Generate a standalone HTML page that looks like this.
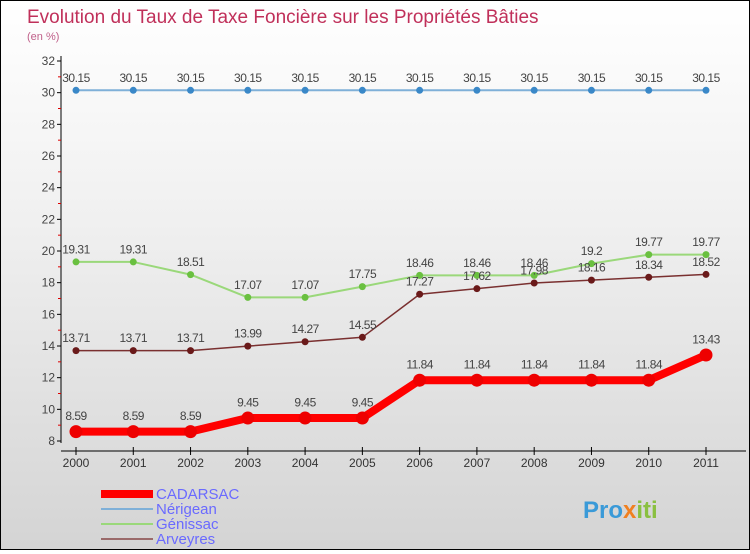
<!DOCTYPE html>
<html><head><meta charset="utf-8"><style>
body{margin:0}
#c{width:748px;height:548px;border:1px solid #000;background:linear-gradient(#fff,#f0f0f0 40%,#d4d4d4);position:relative;font-family:"Liberation Sans",sans-serif}
text{font-family:"Liberation Sans",sans-serif}
</style></head><body>
<div id="c">
<svg id="s" width="748" height="548">
<text x="26" y="22" font-size="19" fill="#c0305a">Evolution du Taux de Taxe Foncière sur les Propriétés Bâties</text>
<text x="26" y="39" font-size="11" fill="#c0608a">(en %)</text>
<g id="g"></g>
<g>
<rect x="100" y="489" width="52" height="8" fill="#f00"/>
<text x="155" y="498" font-size="15" fill="#6a6aff">CADARSAC</text>
<rect x="100" y="507" width="52" height="2" fill="#7fb0d8"/>
<text x="155" y="513" font-size="15" fill="#6a6aff">Nérigean</text>
<rect x="100" y="522" width="52" height="2" fill="#9ad87a"/>
<text x="155" y="528" font-size="15" fill="#6a6aff">Génissac</text>
<rect x="100" y="537" width="52" height="2" fill="#9a6a6a"/>
<text x="155" y="543" font-size="15" fill="#6a6aff">Arveyres</text>
</g>
<text x="582" y="517" font-size="24" font-weight="bold" fill="#3a9ad8">Pro<tspan fill="#f08020">x</tspan><tspan fill="#8ac040">iti</tspan></text>
</svg></div>
<script>
const years=[2000,2001,2002,2003,2004,2005,2006,2007,2008,2009,2010,2011];
const yTicks=[8,10,12,14,16,18,20,22,24,26,28,30,32];
const cadarsac=[8.59,8.59,8.59,9.45,9.45,9.45,11.84,11.84,11.84,11.84,11.84,13.43];
const nerigean=[30.15,30.15,30.15,30.15,30.15,30.15,30.15,30.15,30.15,30.15,30.15,30.15];
const genissac=[19.31,19.31,18.51,17.07,17.07,17.75,18.46,18.46,18.46,19.2,19.77,19.77];
const arveyres=[13.71,13.71,13.71,13.99,14.27,14.55,17.27,17.62,17.98,18.16,18.34,18.52];
const NS="http://www.w3.org/2000/svg",g=document.getElementById('g');
const X=i=>75+i*(630/11), Y=v=>440-(v-8)*(380/24);
function mk(t,a){const e=document.createElementNS(NS,t);for(const k in a)e.setAttribute(k,a[k]);g.appendChild(e);return e;}
let e=mk('line',{x1:60,y1:55,x2:60,y2:442,stroke:'#000'});


e=mk('line',{x1:60,y1:450,x2:745,y2:450,stroke:'#000'});


yTicks.forEach((t,i)=>{
 let l=mk('line',{x1:56,x2:60,y1:Y(t),y2:Y(t),stroke:'#000'});
 
 
 if(i<yTicks.length-1){let m=mk('line',{x1:57,x2:60,y1:Y(t+1),y2:Y(t+1),stroke:'#d00'});
 
 }
 let tx=mk('text',{x:54,y:Y(t)+4,'font-size':12,fill:'#444','text-anchor':'end'});tx.textContent=t;
 
 
});
years.forEach((y,i)=>{
 let l=mk('line',{x1:X(i),x2:X(i),y1:446,y2:454,stroke:'#000'});
 
 
 let tx=mk('text',{x:X(i),y:466,'font-size':12,fill:'#333','text-anchor':'middle'});tx.textContent=y;
 
 
});
function series(d,name,col,w,r,dot){
 let p=mk('polyline',{points:d.map((v,i)=>X(i)+','+Y(v)).join(' '),fill:'none',stroke:col,'stroke-width':w,'stroke-linejoin':'round'});
 
 
 d.forEach((v,i)=>{
  let c=mk('circle',{cx:X(i),cy:Y(v),r:r,fill:dot});
  
  
  let t=mk('text',{x:X(i),y:Y(v)-(r+5),'font-size':12,'letter-spacing':'-0.5',fill:'#444','text-anchor':'middle'});t.textContent=v;
  
  
 });
}
series(nerigean,'nerigean','#7fb0d8',2,3.5,'#3a88c8');
series(genissac,'genissac','#9ad87a',2,3.5,'#6ac040');
series(arveyres,'arveyres','#7a3030',1.5,3.5,'#6a1a1a');
series(cadarsac,'cadarsac','#f00',8,6.5,'#e00');
</script>
</body></html>
